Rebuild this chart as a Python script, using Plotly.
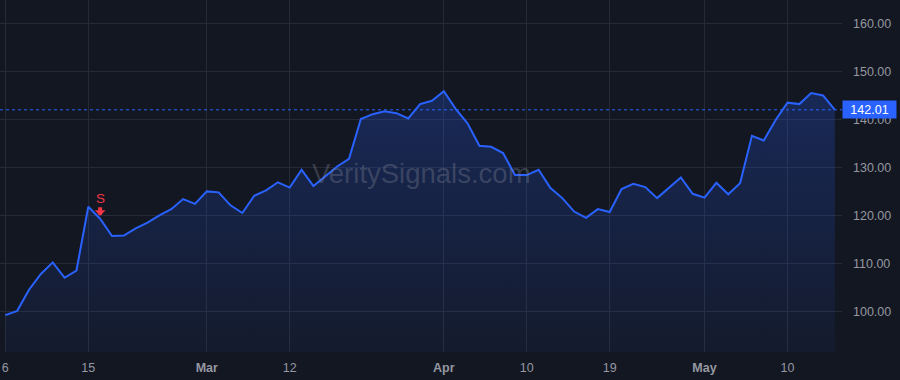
import pandas as pd
import plotly.graph_objects as go

# Trading days (US market, 2024) from Feb 6 to May 16
holidays = ["2024-02-19", "2024-03-29"]
dates = [d.strftime("%Y-%m-%d") for d in pd.bdate_range("2024-02-06", "2024-05-16", freq="C", holidays=holidays)]

prices = [
    99.2, 100.1, 104.5, 107.8, 110.2, 107.0, 108.5, 121.8, 119.3, 115.7,
    115.8, 117.3, 118.5, 120.0, 121.3, 123.4, 122.4, 125.0, 124.8, 122.1,
    120.5, 124.1, 125.2, 126.9, 125.8, 129.5, 126.1, 128.2, 130.2, 131.8,
    140.1, 141.1, 141.7, 141.3, 140.2, 143.2, 143.9, 145.9, 142.2, 139.2,
    134.5, 134.3, 133.0, 128.4, 128.4, 129.5, 125.7, 123.6, 120.8, 119.5,
    121.3, 120.7, 125.5, 126.6, 125.9, 123.6, 125.7, 127.9, 124.5, 123.7,
    126.8, 124.4, 126.7, 136.6, 135.6, 139.9, 143.5, 143.2, 145.5, 145.0,
    142.01,
]

tick_dates = ["2024-02-06", "2024-02-15", "2024-03-01", "2024-03-12", "2024-04-01",
              "2024-04-10", "2024-04-19", "2024-05-01", "2024-05-10"]
tick_labels = ["6", "15", "<b>Mar</b>", "12", "<b>Apr</b>", "10", "19", "<b>May</b>", "10"]

signal_date = "2024-02-16"
signal_label = "S"

y_ticks = [100, 110, 120, 130, 140, 150, 160]

BG = "#131722"
GRID = "#252a36"
BLUE = "#2962ff"
RED = "#f23645"
TXT = "#9598a1"
FONT = "Liberation Sans, Arial, sans-serif"

fig = go.Figure()
fig.add_trace(go.Scatter(
    x=dates, y=prices, mode="lines",
    line=dict(color=BLUE, width=2),
    fill="tozeroy",
    fillgradient=dict(type="vertical", start=91.5, stop=146,
                      colorscale=[[0, "rgba(41,98,255,0.05)"], [1, "rgba(41,98,255,0.24)"]]),
    hoverinfo="skip",
))

last = prices[-1]
fig.add_shape(type="line", xref="paper", x0=0, x1=1, yref="y", y0=last, y1=last,
              line=dict(color=BLUE, width=1, dash="dot"), layer="above")

fig.add_annotation(x=0.5, y=0.508, xref="paper", yref="paper",
                   text="VeritySignals.com", showarrow=False,
                   font=dict(family=FONT, size=27.5, color="rgba(135,140,155,0.33)"))

si = dates.index(signal_date)
# signal arrow
fig.add_annotation(x=signal_date, y=prices[si], xref="x", yref="y",
                   text="", showarrow=True, ax=0, ay=-13,
                   arrowhead=1, arrowsize=0.45, arrowwidth=4, arrowcolor=RED,
                   standoff=3)
# signal label
fig.add_annotation(x=signal_date, y=prices[si], xref="x", yref="y",
                   text=signal_label, showarrow=False, yshift=20,
                   font=dict(family=FONT, size=13.5, color=RED))

fig.add_annotation(x=1, y=last, xref="paper", yref="y", xanchor="left",
                   text=f"{last:.2f}", showarrow=False, bgcolor=BLUE,
                   borderpad=2, width=49, height=13,
                   font=dict(family=FONT, size=12.5, color="#ffffff"))

fig.update_layout(
    width=900, height=380,
    margin=dict(l=0, r=58, t=0, b=28),
    paper_bgcolor=BG, plot_bgcolor=BG,
    showlegend=False,
    xaxis=dict(type="category", range=[-0.45, 70.6],
               tickmode="array", tickvals=tick_dates, ticktext=tick_labels,
               showgrid=True, gridcolor=GRID, gridwidth=1,
               zeroline=False, showline=False, ticks="",
               ticklabelstandoff=6,
               tickfont=dict(family=FONT, size=12.5, color=TXT)),
    yaxis=dict(side="right", range=[91.52, 164.9],
               tickmode="array", tickvals=y_ticks, tickformat=".2f",
               showgrid=True, gridcolor=GRID, gridwidth=1,
               zeroline=False, showline=False, ticks="",
               ticklabelstandoff=10,
               tickfont=dict(family=FONT, size=12.5, color=TXT)),
)

fig.write_html("out.html")
